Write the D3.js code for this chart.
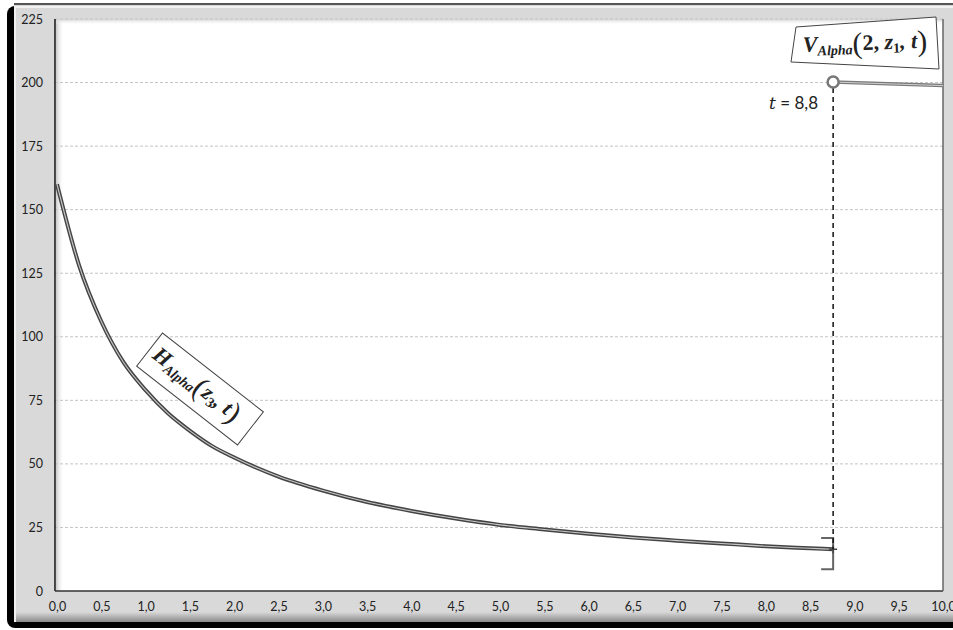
<!DOCTYPE html>
<html><head><meta charset="utf-8">
<script src="https://cdn.jsdelivr.net/npm/d3@7"></script>
<style>body{margin:0;background:#fff}svg{display:block}</style>
</head><body>
<svg id="c" width="953" height="630"></svg>
<script>
// ---- data ----
const hT = [0,0.25,0.5,0.75,1,1.25,1.5,1.75,2,2.5,3,3.5,4,4.5,5,5.5,6,6.5,7,7.5,8,8.5,8.76];
const hV = [160,128,106,90,79,70,63,57,52.5,45,39.5,35,31.5,28.5,26,24.2,22.5,21,19.8,18.7,17.6,16.8,16.4];
const vT = [8.76,10];
const vV = [200.2,198.8];
const errT = 8.76, errLow = 8.6, errHigh = 20.8;
const xTicks = [0,0.5,1,1.5,2,2.5,3,3.5,4,4.5,5,5.5,6,6.5,7,7.5,8,8.5,9,9.5,10];
const yTicks = [0,25,50,75,100,125,150,175,200,225];
const markLabel = "8,8";

const svg = d3.select("#c");
const L = 55, R = 943, T = 19, B = 591;
const x = d3.scaleLinear().domain([0,10]).range([57, 943]);
const y = d3.scaleLinear().domain([0,225]).range([B, T]);

const defs = svg.append("defs");
const g1 = defs.append("linearGradient").attr("id","bot").attr("x1",0).attr("y1",0).attr("x2",0).attr("y2",1);
g1.append("stop").attr("offset","0").attr("stop-color","#d9d9d9");
g1.append("stop").attr("offset","1").attr("stop-color","#8a8a8a");
const g2 = defs.append("linearGradient").attr("id","inl").attr("x1",0).attr("y1",0).attr("x2",1).attr("y2",0);
g2.append("stop").attr("offset","0").attr("stop-color","#c8c8c8");
g2.append("stop").attr("offset","1").attr("stop-color","#ffffff").attr("stop-opacity",0);
const g3 = defs.append("linearGradient").attr("id","int").attr("x1",0).attr("y1",0).attr("x2",0).attr("y2",1);
g3.append("stop").attr("offset","0").attr("stop-color","#d0d0d0");
g3.append("stop").attr("offset","1").attr("stop-color","#ffffff").attr("stop-opacity",0);

// frame
svg.append("rect").attr("x",7).attr("y",6).attr("width",960).attr("height",622).attr("rx",8).attr("fill","#000");
svg.append("rect").attr("x",14).attr("y",3).attr("width",945).attr("height",619).attr("fill","#d9d9d9");
svg.append("rect").attr("x",14).attr("y",612).attr("width",945).attr("height",10).attr("fill","url(#bot)");
svg.append("line").attr("x1",14).attr("x2",953).attr("y1",4).attr("y2",4).attr("stroke","#555").attr("stroke-width",2);
svg.append("line").attr("x1",14).attr("x2",953).attr("y1",7).attr("y2",7).attr("stroke","#f2f2f2").attr("stroke-width",2);
svg.append("line").attr("x1",15).attr("x2",15).attr("y1",6).attr("y2",622).attr("stroke","#f0f0f0").attr("stroke-width",2);

// plot area
svg.append("rect").attr("x",L).attr("y",T).attr("width",R-L).attr("height",B-T).attr("fill","#fff");
svg.append("rect").attr("x",L+1).attr("y",T).attr("width",8).attr("height",B-T).attr("fill","url(#inl)");
svg.append("rect").attr("x",L).attr("y",T).attr("width",R-L).attr("height",6).attr("fill","url(#int)");

// grid
svg.append("g").selectAll("line").data(yTicks.filter(d=>d>0)).join("line")
  .attr("x1",L).attr("x2",R).attr("y1",d=>y(d)).attr("y2",d=>y(d))
  .attr("stroke","#c4c4c4").attr("stroke-dasharray","3,2").attr("stroke-width",1);

// borders
svg.append("line").attr("x1",L).attr("x2",L).attr("y1",T).attr("y2",B).attr("stroke","#111").attr("stroke-width",1.5);
svg.append("line").attr("x1",L).attr("x2",R).attr("y1",B).attr("y2",B).attr("stroke","#333").attr("stroke-width",1.5);
svg.append("line").attr("x1",R).attr("x2",R).attr("y1",T).attr("y2",B).attr("stroke","#666").attr("stroke-width",1.5);

// axes labels
const fnt = "Lato, 'Open Sans', sans-serif";
const yAxis = d3.axisLeft(y).tickValues(yTicks).tickSize(0).tickPadding(12).tickFormat(d3.format("d"));
const ya = svg.append("g").attr("transform",`translate(${L},0)`).call(yAxis);
ya.select(".domain").remove();
ya.selectAll("text").attr("font-family",fnt).attr("font-size",12.5).attr("fill","#222");
const xAxis = d3.axisBottom(x).tickValues(xTicks).tickSize(0).tickPadding(11)
  .tickFormat(d=>d3.format(".1f")(d).replace(".",","));
const xa = svg.append("g").attr("transform",`translate(0,${B})`).call(xAxis);
xa.select(".domain").remove();
xa.selectAll("text").attr("font-family",fnt).attr("font-size",12.5).attr("fill","#222");

// H curve
const hData = hT.map((t,i)=>[t,hV[i]]);
const line = d3.line().x(d=>x(d[0])).y(d=>y(d[1])).curve(d3.curveMonotoneX);
svg.append("path").attr("d",line(hData)).attr("fill","none").attr("stroke","#444").attr("stroke-width",4);
svg.append("path").attr("d",line(hData)).attr("fill","none").attr("stroke","#c8c8c8").attr("stroke-width",1.1);

// error bar
const ex = x(errT);
svg.append("path").attr("d",`M${ex-12},${y(errHigh)}H${ex}V${y(errLow)}H${ex-12}`)
  .attr("fill","none").attr("stroke","#666").attr("stroke-width",2);
svg.append("path").attr("d",`M${ex-4},${y(hV[hV.length-1])}h8M${ex},${y(hV[hV.length-1])-4}v8`)
  .attr("stroke","#444").attr("stroke-width",1.5);

// dashed vertical
svg.append("line").attr("x1",ex).attr("x2",ex).attr("y1",y(vV[0])+6).attr("y2",y(hV[hV.length-1]))
  .attr("stroke","#111").attr("stroke-width",1.5).attr("stroke-dasharray","5,4");

// V line
const vData = vT.map((t,i)=>[t,vV[i]]);
svg.append("path").attr("d",line(vData)).attr("fill","none").attr("stroke","#7a7a7a").attr("stroke-width",3.5);
svg.append("path").attr("d",line(vData)).attr("fill","none").attr("stroke","#cfcfcf").attr("stroke-width",1);
svg.append("circle").attr("cx",ex).attr("cy",y(vV[0])).attr("r",5.5).attr("fill","#fff").attr("stroke","#777").attr("stroke-width",2.5);

// t = 8,8 label
const tl = svg.append("text").attr("x",818).attr("y",109).attr("text-anchor","end")
  .attr("font-size",17).attr("fill","#222").attr("font-family",fnt);
tl.append("tspan").attr("font-family","'DejaVu Serif', serif").attr("font-style","italic").attr("font-size",17).text("t");
tl.append("tspan").text(" = " + markLabel);

// V label box
const serif = "'Liberation Serif', 'DejaVu Serif', serif";
svg.append("polygon").attr("points","796,27 936,17 939,69 791,62").attr("fill","#fff").attr("stroke","#444").attr("stroke-width",1);
const vl = svg.append("text").attr("transform","translate(803,52) rotate(-2)")
  .attr("font-family",serif).attr("font-weight","bold").attr("font-style","italic").attr("font-size",22).attr("fill","#222");
vl.append("tspan").text("V");
vl.append("tspan").attr("font-size",14).attr("dy",4).text("Alpha");
vl.append("tspan").attr("font-size",30).attr("font-style","normal").attr("font-weight","normal").attr("dy",-1).text("(");
vl.append("tspan").attr("dy",-3).attr("font-style","normal").text("2, ");
vl.append("tspan").text("z");
vl.append("tspan").attr("font-size",14).attr("dy",4).attr("font-style","normal").text("1");
vl.append("tspan").attr("dy",-4).text(", t");
vl.append("tspan").attr("font-size",30).attr("font-style","normal").attr("font-weight","normal").attr("dy",3).text(")");

// H label box
const hg = svg.append("g").attr("transform","translate(200,389) rotate(38)");
hg.append("rect").attr("x",-64).attr("y",-21).attr("width",128).attr("height",42).attr("fill","#fff").attr("stroke","#444").attr("stroke-width",1);
const hl = hg.append("text").attr("x",-58).attr("y",5)
  .attr("font-family",serif).attr("font-weight","bold").attr("font-style","italic").attr("font-size",22).attr("fill","#222");
hl.append("tspan").text("H");
hl.append("tspan").attr("font-size",14).attr("dy",4).text("Alpha");
hl.append("tspan").attr("font-size",30).attr("font-style","normal").attr("font-weight","normal").attr("dy",-1).text("(");
hl.append("tspan").attr("dy",-3).text("z");
hl.append("tspan").attr("font-size",14).attr("dy",4).attr("font-style","normal").text("3");
hl.append("tspan").attr("dy",-4).text(", t");
hl.append("tspan").attr("font-size",30).attr("font-style","normal").attr("font-weight","normal").attr("dy",3).text(")");
</script>
</body></html>
